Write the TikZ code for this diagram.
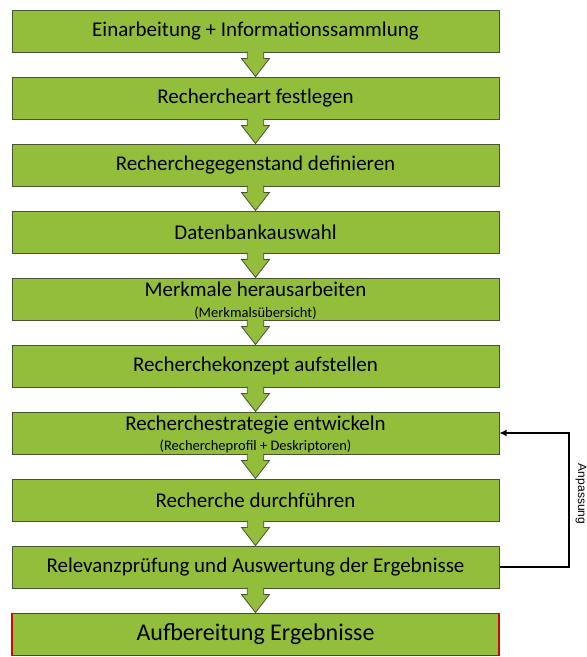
\documentclass[tikz,border=0pt]{standalone}
\usepackage{fontspec}
\setmainfont{Carlito}
\newfontfamily\notefont{Liberation Sans}
\usetikzlibrary{positioning,calc,arrows.meta}

\definecolor{stepgreen}{RGB}{146,190,59}
\definecolor{stepedge}{RGB}{72,84,52}
\definecolor{stepred}{RGB}{200,10,10}

\begin{document}
\begin{tikzpicture}[x=1pt,y=1pt,node distance=24pt,
  stepbox/.style={draw=stepedge,line width=1pt,fill=stepgreen,minimum width=487pt,
    minimum height=42pt,inner sep=0pt,align=center,font=\fontsize{21}{20}\selectfont},
  blockarrow/.style={draw=stepedge,line width=0.8pt,fill=stepgreen,line join=miter},
  feedback/.style={draw=black,line width=2pt,-{Latex[length=7pt,width=7pt]}}]
\useasboundingbox (0,0) rectangle (587,-657);

%Shape: Rectangle steps
\node[stepbox] (einarb) at (255.5,-31) {Einarbeitung + Informationssammlung};
\node[stepbox,below=of einarb] (art) {Rechercheart festlegen};
\node[stepbox,below=of art] (gegenstand) {Recherchegegenstand definieren};
\node[stepbox,below=of gegenstand] (datenbank) {Datenbankauswahl};
\node[stepbox,below=of datenbank] (merkmale) {\rule{0pt}{17.5pt}Merkmale herausarbeiten\\[0.5pt]{\fontsize{14.5}{16}\selectfont(Merkmalsübersicht)}};
\node[stepbox,below=of merkmale] (konzept) {Recherchekonzept aufstellen};
\node[stepbox,below=of konzept] (strategie) {\rule{0pt}{17.5pt}Recherchestrategie entwickeln\\[0.5pt]{\fontsize{14.5}{16}\selectfont(Rechercheprofil + Deskriptoren)}};
\node[stepbox,below=of strategie] (durchf) {Recherche durchführen};
\node[stepbox,below=of durchf] (relevanz) {Relevanzprüfung und Auswertung der Ergebnisse};
\node[stepbox,below=of relevanz,draw=stepred,line width=1.6pt,font=\fontsize{24}{26}\selectfont] (aufber) {Aufbereitung Ergebnisse};

%Shape: block arrows between steps
\foreach \a/\b in {einarb/art,art/gegenstand,gegenstand/datenbank,datenbank/merkmale,
    merkmale/konzept,konzept/strategie,strategie/durchf,durchf/relevanz,relevanz/aufber}
  \filldraw[blockarrow] ($(\a.south)+(-8.25,1)$) -- ++(0,-7) -- ++(-5.75,0) -- (\b.north)
    -- ($(\a.south)+(14,-6)$) -- ++(-5.75,0) -- ++(0,7);

%Feedback loop
\draw[feedback] (relevanz.east) -- ++(69,0) |- (strategie.east);
% Text Node
\node[rotate=-90,font=\notefont\fontsize{12}{14}\selectfont] (anpassung) at (581,-494) {Anpassung};

\end{tikzpicture}
\end{document}
